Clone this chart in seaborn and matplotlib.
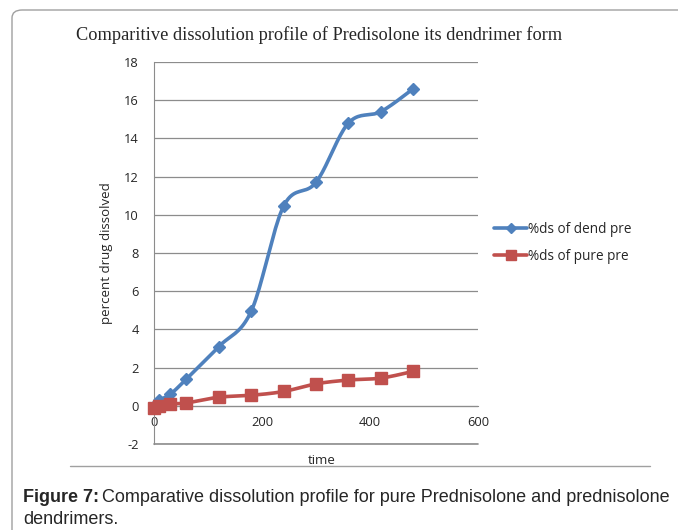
import numpy as np
import pandas as pd
import matplotlib.pyplot as plt
import seaborn as sns
from matplotlib.lines import Line2D
from matplotlib.patches import FancyBboxPatch

time = [0, 10, 30, 60, 120, 180, 240, 300, 360, 420, 480]
dend = [0.0, 0.3, 0.6, 1.4, 3.1, 4.95, 10.45, 11.7, 14.8, 15.4, 16.6]
pure = [-0.1, 0.0, 0.1, 0.15, 0.45, 0.55, 0.75, 1.15, 1.35, 1.45, 1.8]
series = ["%ds of dend pre", "%ds of pure pre"]
colors = ["#4F81BD", "#C0504D"]
markers = ["D", "s"]


def smooth(x, y, n=20):
    # Catmull-Rom style smoothing, like Excel's "smoothed line"
    x = np.asarray(x, float)
    y = np.asarray(y, float)
    px = np.concatenate([[x[0]], x, [x[-1]]])
    py = np.concatenate([[y[0]], y, [y[-1]]])
    xs, ys = [], []
    t = np.linspace(0, 1, n, endpoint=False)
    for i in range(1, len(px) - 2):
        p0, p1, p2, p3 = [np.array([px[j], py[j]]) for j in (i - 1, i, i + 1, i + 2)]
        c1 = p1 + (p2 - p0) / 6
        c2 = p2 - (p3 - p1) / 6
        for tt in t:
            b = ((1 - tt) ** 3) * p1 + 3 * ((1 - tt) ** 2) * tt * c1 + 3 * (1 - tt) * tt ** 2 * c2 + tt ** 3 * p2
            xs.append(b[0])
            ys.append(b[1])
    xs.append(x[-1])
    ys.append(y[-1])
    return xs, ys


sns.set_style("white")
plt.rcParams["font.family"] = ["Open Sans", "DejaVu Sans"]
plt.rcParams["axes.unicode_minus"] = False

fig = plt.figure(figsize=(6.78, 5.3), dpi=100)
ax = fig.add_axes([154 / 678, 1 - 444 / 530, 324 / 678, 382 / 530])

handles = []
for name, vals, c, m, ms in zip(series, [dend, pure], colors, markers, [6.5, 8.5]):
    sx, sy = smooth(time, vals)
    df = pd.DataFrame({"t": sx, "v": sy})
    sns.lineplot(data=df, x="t", y="v", ax=ax, color=c, lw=2.6, sort=False,
                 estimator=None, zorder=3)
    ax.plot(time, vals, ls="none", marker=m, ms=ms, color=c, zorder=4, clip_on=False)
    handles.append(Line2D([], [], color=c, lw=2.6, marker=m, ms=ms - 1, label=name))

ax.set_xlim(0, 600)
ax.set_ylim(-2, 18)
ax.set_yticks(np.arange(-2, 19, 2))
ax.set_xticks([0, 200, 400, 600])
ax.grid(axis="y", color="#8c8c8c", lw=0.9)
ax.axhline(-2, color="#8c8c8c", lw=1.2, clip_on=False, zorder=1)
ax.set_axisbelow(True)
for s in ["top", "right"]:
    ax.spines[s].set_visible(False)
ax.spines["bottom"].set_position(("data", 0))
ax.spines["bottom"].set_color("#8c8c8c")
ax.spines["left"].set_color("#8c8c8c")
ax.tick_params(axis="both", length=4, color="#8c8c8c", labelsize=9.3, direction="out")
ax.tick_params(axis="y", pad=7)
ax.set_xlabel("")
ax.set_ylabel("percent drug dissolved", fontsize=9.5, labelpad=8)
fig.text(322 / 678, 1 - 461 / 530, "time", ha="center", va="center", fontsize=9.5)

fig.text(319 / 678, 1 - 35 / 530, "Comparitive dissolution profile of Predisolone its dendrimer form",
         ha="center", va="center", fontsize=13.2, family=["Liberation Serif", "DejaVu Serif"])

fig.legend(handles=handles, loc="upper left", bbox_to_anchor=(482 / 678, 1 - 210 / 530),
           frameon=False, fontsize=9.8, handlelength=2.4, handletextpad=0.1, labelspacing=0.85)

# chart frame and caption
frame = FancyBboxPatch((12 / 678, -0.2), 1.0, 1 - 10 / 530 + 0.2,
                       boxstyle="round,pad=0,rounding_size=0.015", transform=fig.transFigure,
                       fill=False, ec="#a0a0a0", lw=1.0, zorder=0)
fig.add_artist(frame)
fig.add_artist(Line2D([70 / 678, 650 / 678], [1 - 466 / 530] * 2, color="#a0a0a0", lw=1,
                      transform=fig.transFigure))

cap = ["Liberation Sans Narrow", "Liberation Sans", "DejaVu Sans"]
t1 = fig.text(23 / 678, 1 - 497 / 530, "Figure 7:", fontsize=13, weight="bold", family=cap,
              va="center")
fig.canvas.draw()
bb = t1.get_window_extent()
fig.text(bb.x1 / 678 + 0.004, 1 - 497 / 530,
         "Comparative dissolution profile for pure Prednisolone and prednisolone",
         fontsize=13, family=cap, va="center")
fig.text(23 / 678, 1 - 519 / 530, "dendrimers.", fontsize=13, family=cap, va="center")

fig.savefig("out.png", dpi=100)
